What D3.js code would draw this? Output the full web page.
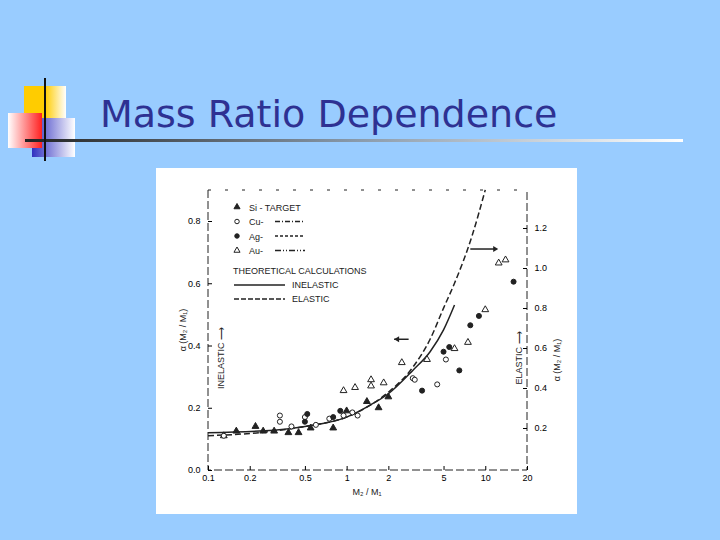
<!DOCTYPE html><html><head><meta charset="utf-8"><script src="https://cdn.jsdelivr.net/npm/d3@7"></script>
<style>body{margin:0;background:#99ccff}</style></head><body><svg id="s" width="720" height="540"></svg>
<script>
const title="Mass Ratio Dependence";
const xTicks=[0.1,0.2,0.5,1,2,5,10,20];
const xTickLabels=["0.1","0.2","0.5","1","2","5","10","20"];
const yTicks=[0,0.2,0.4,0.6,0.8];
const yRightTicks=[0.2,0.4,0.6,0.8,1.0,1.2];
const si=[[0.13,0.11],[0.16,0.125],[0.22,0.14],[0.25,0.125],[0.3,0.125],[0.38,0.12],[0.45,0.12],[0.55,0.135],[0.8,0.135],[1,0.19],[1.4,0.22],[1.7,0.2],[2,0.235]];
const cu=[[0.13,0.11],[0.33,0.155],[0.33,0.175],[0.4,0.14],[0.5,0.17],[0.6,0.145],[0.75,0.165],[0.95,0.175],[1.1,0.185],[1.2,0.175],[3,0.295],[3.1,0.29],[4.5,0.275],[5.2,0.355]];
const ag=[[0.5,0.155],[0.52,0.18],[0.8,0.17],[0.9,0.19],[3.5,0.255],[5,0.38],[5.5,0.395],[6.5,0.32],[7.8,0.465],[9,0.495],[16,0.605]];
const au=[[0.95,0.255],[1.15,0.265],[1.5,0.29],[1.5,0.27],[1.85,0.28],[2.5,0.345],[3.8,0.355],[6,0.39],[7.5,0.41],[10,0.515],[12.5,0.665],[14,0.675]];
const elastic=[[0.1,0.11],[0.3,0.125],[0.5,0.14],[1,0.17],[1.5,0.21],[2,0.25],[3,0.33],[4,0.42],[5,0.52],[6,0.6],[8,0.75],[10,0.9]];
const inelastic=[[0.1,0.12],[0.3,0.128],[0.5,0.14],[1,0.17],[1.5,0.21],[2,0.245],[3,0.32],[4,0.38],[5,0.45],[6,0.53]];
const svg=d3.select("#s");
const defs=svg.append("defs");
const g1=defs.append("linearGradient").attr("id","ln");g1.append("stop").attr("offset","0").attr("stop-color","#222");g1.append("stop").attr("offset","0.5").attr("stop-color","#8899aa");g1.append("stop").attr("offset","1").attr("stop-color","#fff");
const g2=defs.append("linearGradient").attr("id","rd");g2.append("stop").attr("offset","0").attr("stop-color","#fff");g2.append("stop").attr("offset","1").attr("stop-color","#ff2020");
const g3=defs.append("linearGradient").attr("id","bl");g3.append("stop").attr("offset","0").attr("stop-color","#3030c0");g3.append("stop").attr("offset","1").attr("stop-color","#fff");
const g4=defs.append("linearGradient").attr("id","yl");g4.append("stop").attr("offset","0.5").attr("stop-color","#ffcc00");g4.append("stop").attr("offset","1").attr("stop-color","#fff");
svg.append("rect").attr("x",24).attr("y",86).attr("width",42).attr("height",36).attr("fill","url(#yl)");
svg.append("rect").attr("x",32).attr("y",118).attr("width",43).attr("height",39).attr("fill","url(#bl)");
svg.append("rect").attr("x",8).attr("y",113).attr("width",34).attr("height",35).attr("fill","url(#rd)");
svg.append("rect").attr("x",25).attr("y",139).attr("width",658).attr("height",3).attr("fill","url(#ln)");
svg.append("line").attr("x1",45).attr("x2",45).attr("y1",78).attr("y2",161).attr("stroke","#111").attr("stroke-width",2);
svg.append("text").attr("x",100).attr("y",127).text(title).attr("font-family","Verdana, DejaVu Sans").attr("font-size",38).attr("fill","#2e3192");
svg.append("rect").attr("x",156).attr("y",168).attr("width",421).attr("height",346).attr("fill","#fff");
const x=d3.scaleLog().domain([0.1,20]).range([208,527]);
const y=d3.scaleLinear().domain([0,0.8]).range([470,221]);
const yr=d3.scaleLinear().domain([0,1.2]).range([468,228]);
const ink="#222",ff="Liberation Sans, Arial";
const g=svg.append("g").attr("font-family",ff).attr("font-size",9).attr("fill",ink);
g.append("path").attr("d","M208,190V470H527V190").attr("fill","none").attr("stroke",ink).attr("stroke-dasharray","8,3");
g.append("path").attr("d","M208,190H527").attr("fill","none").attr("stroke",ink).attr("stroke-dasharray","3,14");
g.append("g").attr("transform","translate(0,470)").call(d3.axisBottom(x).tickValues(xTicks).tickFormat((d,i)=>xTickLabels[i]).tickSize(-4)).call(a=>{a.select(".domain").remove();a.selectAll("text").attr("dy","0.9em").attr("font-size",9)});
g.append("g").attr("transform","translate(208,0)").call(d3.axisLeft(y).tickValues(yTicks).tickFormat(d3.format(".1f")).tickSize(-4)).call(a=>{a.select(".domain").remove();a.selectAll("text").attr("dx","-0.5em").attr("font-size",9)});
g.append("g").attr("transform","translate(527,0)").call(d3.axisRight(yr).tickValues(yRightTicks).tickFormat(d3.format(".1f")).tickSize(-4)).call(a=>{a.select(".domain").remove();a.selectAll("text").attr("dx","0.5em").attr("font-size",9)});
g.append("text").attr("x",367).attr("y",495).attr("text-anchor","middle").text("M₂ / M₁");
g.append("text").attr("transform","translate(186,330) rotate(-90)").attr("text-anchor","middle").text("α (M₂ / M₁)");
g.append("text").attr("transform","translate(560,360) rotate(-90)").attr("text-anchor","middle").text("α (M₂ / M₁)");
g.append("text").attr("transform","translate(224,358) rotate(-90)").attr("text-anchor","middle").text("INELASTIC ⟶");
g.append("text").attr("transform","translate(522,358) rotate(-90)").attr("text-anchor","middle").text("ELASTIC ⟶");
const line=d3.line().x(d=>x(d[0])).y(d=>y(d[1])).curve(d3.curveMonotoneX);
g.append("path").attr("d",line(elastic)).attr("fill","none").attr("stroke",ink).attr("stroke-width",1.5).attr("stroke-dasharray","6,3");
g.append("path").attr("d",line(inelastic)).attr("fill","none").attr("stroke",ink).attr("stroke-width",1.5);
const sym=(data,type,fill)=>g.append("g").selectAll("path").data(data).join("path").attr("transform",d=>`translate(${x(d[0])},${y(d[1])})`).attr("d",d3.symbol(type,20)).attr("fill",fill?ink:"#fff").attr("stroke",ink);
sym(si,d3.symbolTriangle,true);sym(cu,d3.symbolCircle,false);sym(ag,d3.symbolCircle,true);sym(au,d3.symbolTriangle,false);
g.append("path").attr("d",`M${x(2.2)},${y(0.42)}H${x(2.8)}`).attr("stroke",ink).attr("stroke-width",1.5);
g.append("path").attr("d",`M${x(2.2)},${y(0.42)}l5,-3v6z`).attr("fill",ink);
g.append("path").attr("d",`M${x(7.8)},${y(0.71)}H${x(12)}`).attr("stroke",ink).attr("stroke-width",1.5);
g.append("path").attr("d",`M${x(12.4)},${y(0.71)}l-5,-3v6z`).attr("fill",ink);
const L=g.append("g");
const leg=[["Si - TARGET",d3.symbolTriangle,true,null],["Cu-",d3.symbolCircle,false,"5,2,1,2"],["Ag-",d3.symbolCircle,true,"3,2"],["Au-",d3.symbolTriangle,false,"6,2,1,2,1,2"]];
leg.forEach((l,i)=>{const yy=207+i*14.5;L.append("path").attr("transform",`translate(237,${yy})`).attr("d",d3.symbol(l[1],16)).attr("fill",l[2]?ink:"#fff").attr("stroke",ink);
L.append("text").attr("x",249).attr("y",yy+3.5).text(l[0]);
if(l[3])L.append("line").attr("x1",275).attr("x2",305).attr("y1",yy).attr("y2",yy).attr("stroke",ink).attr("stroke-width",1.3).attr("stroke-dasharray",l[3]);});
L.append("text").attr("x",233).attr("y",274).text("THEORETICAL CALCULATIONS");
L.append("line").attr("x1",234).attr("x2",285).attr("y1",285).attr("y2",285).attr("stroke",ink).attr("stroke-width",1.3);
L.append("text").attr("x",292).attr("y",288).text("INELASTIC");
L.append("line").attr("x1",234).attr("x2",285).attr("y1",299).attr("y2",299).attr("stroke",ink).attr("stroke-width",1.3).attr("stroke-dasharray","5,2");
L.append("text").attr("x",292).attr("y",302).text("ELASTIC");
</script></body></html>
